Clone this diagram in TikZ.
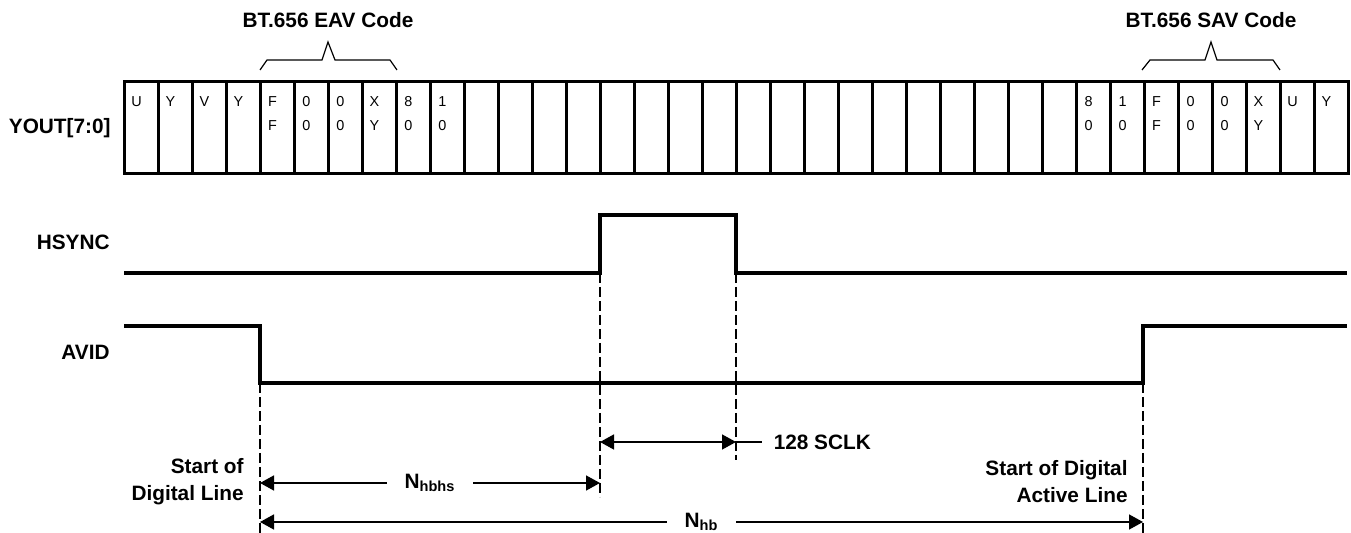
\documentclass[tikz,border=0pt]{standalone}
\usepackage{fontspec}
\setmainfont{Liberation Sans}
\usetikzlibrary{arrows.meta}

\begin{document}
\begin{tikzpicture}[x=0.5pt,y=-0.5pt,
			bus line/.style={line width=1.5pt},
			signal line/.style={line width=2pt},
			dash line/.style={line width=0.6pt,dash pattern=on 5pt off 2pt},
			dim line/.style={line width=0.75pt,{Triangle[length=7pt,width=7.5pt]}-{Triangle[length=7pt,width=7.5pt]}},
			brace line/.style={line width=0.6pt},
			cell text/.style={font=\fontsize{7.2}{8}\selectfont,inner sep=0pt,anchor=base},
			sig label/.style={font=\fontsize{10.4}{13.5}\selectfont\bfseries,inner sep=0pt},
			dim label/.style={sig label,fill=white,inner xsep=9pt,inner ysep=1pt}
			]
			
			\def \xo {124};
			\def \cw {34};
			\def \nc {36};
			
			\useasboundingbox (0,0) rectangle (1351,533);
			
			% data bus
			\node[sig label,anchor=base east] (yout) at (111,134) {YOUT[7:0]};
			\draw[bus line] (\xo,82) rectangle ({\xo+\cw*\nc},174);
			\foreach \i in {1,...,35} {
				\draw[bus line] ({\xo+\cw*\i},82) -- ({\xo+\cw*\i},174);
			}
			\foreach \c/\t/\b in {1/U/,2/Y/,3/V/,4/Y/,5/F/F,6/0/0,7/0/0,8/X/Y,9/8/0,10/1/0,
				29/8/0,30/1/0,31/F/F,32/0/0,33/0/0,34/X/Y,35/U/,36/Y/} {
				\node[cell text] (top\c) at ({\xo+\cw*(\c-1)+12.5},107) {\t};
				\node[cell text] (bot\c) at ({\xo+\cw*(\c-1)+12.5},131) {\b};
			}
			
			% code braces
			\draw[brace line] (260,70) -- (267,60) -- (322,60) -- (328,42) -- (335,60) -- (390,60) -- (397,70);
			\node[sig label,anchor=base] (eav) at (328,28) {BT.656 EAV Code};
			\draw[brace line] (1142,70) -- (1150,60) -- (1205,60) -- (1211,42) -- (1217,60) -- (1273,60) -- (1280,70);
			\node[sig label,anchor=base] (sav) at (1211,28) {BT.656 SAV Code};
			
			% signals
			\node[sig label,anchor=base east] (hsync) at (110,250) {HSYNC};
			\node[sig label,anchor=base east] (avid) at (110,360) {AVID};
			
			\coordinate (hs rise) at (600,273);
			\coordinate (hs fall) at (736,273);
			\coordinate (av fall) at (260,383);
			\coordinate (av rise) at (1143,383);
			
			\draw[signal line] (124,273) -| (600,215) -| (hs fall) -- (1347,273);
			\draw[signal line] (124,326) -| (av fall) -| (1143,326) -- (1347,326);
			
			\draw[dash line] (av fall) -- (av fall |- 0,533);
			\draw[dash line] (hs rise) -- (hs rise |- 0,497);
			\draw[dash line] (hs fall) -- (hs fall |- 0,460);
			\draw[dash line] (av rise) -- (av rise |- 0,533);
			
			% timing
			\draw[dim line] (hs rise |- 0,442) -- (hs fall |- 0,442);
			\draw[line width=0.75pt] (hs fall |- 0,442) -- ++(26,0) node[sig label,anchor=west,xshift=5.5pt] (sclk) {128 SCLK};
			\draw[dim line] (av fall |- 0,483) -- node[dim label] (nhbhs) {N\textsubscript{hbhs}} (hs rise |- 0,483);
			\draw[dim line] (av fall |- 0,522) -- node[dim label] (nhb) {N\textsubscript{hb}} (av rise |- 0,522);
			
			\node[sig label,align=right,anchor=east] (sdl) at (244,482) {Start of\\Digital Line};
			\node[sig label,align=right,anchor=east] (sdal) at (1128,482) {Start of Digital\\Active Line};
			
		\end{tikzpicture}
\end{document}
